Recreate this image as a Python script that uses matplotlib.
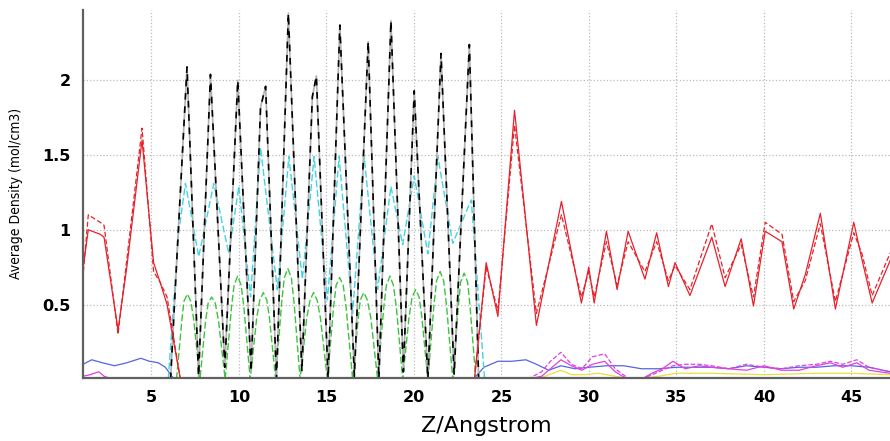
import numpy as np
import matplotlib
matplotlib.use("Agg")
import matplotlib.pyplot as plt

# ---- data ----
# black (dash-dot) oscillating species in the slab
z_black = [6.1, 6.5, 7.04, 7.7, 8.38, 9.2, 9.94, 10.7, 11.24, 11.53, 12.15, 12.83, 13.6,
           14.2, 14.43, 15.1, 15.77, 16.6, 17.39, 18.0, 18.69, 19.4, 20.02, 20.8, 21.55,
           22.3, 23.17, 23.7]
d_black = [0.0, 0.9, 2.09, 0.02, 2.04, 0.08, 2.0, 0.05, 1.82, 1.96, 0.0, 2.45, 0.05,
           1.89, 2.03, 0.0, 2.37, 0.02, 2.26, 0.0, 2.40, 0.05, 1.93, 0.0, 2.18,
           0.03, 2.24, 0.0]

# cyan (dashed)
z_cyan = [5.97, 6.56, 6.95, 7.71, 8.57, 9.43, 10.0, 10.67, 11.24, 12.2, 12.86, 13.63,
          14.3, 15.06, 15.73, 16.5, 17.16, 17.93, 18.69, 19.36, 20.02, 20.8, 21.37,
          22.22, 23.28, 24.04]
d_cyan = [0.0, 0.98, 1.31, 0.82, 1.31, 0.84, 1.29, 0.55, 1.55, 0.6, 1.49, 0.67,
          1.49, 0.53, 1.49, 0.44, 1.49, 0.6, 1.29, 0.9, 1.36, 0.84, 1.49,
          0.91, 1.2, 0.0]

# green (dashed), rounded bumps
z_green = [6.44, 6.75, 6.86, 7.06, 7.26, 7.42, 7.78,
           8.1, 8.25, 8.45, 8.65, 8.84, 9.22,
           9.58, 9.73, 9.93, 10.13, 10.29, 10.65,
           11.02, 11.2, 11.4, 11.6, 11.75, 12.1,
           12.45, 12.6, 12.8, 13.0, 13.15, 13.5,
           13.88, 14.07, 14.27, 14.47, 14.66, 15.06,
           15.41, 15.56, 15.76, 15.96, 16.13, 16.5,
           16.82, 16.94, 17.14, 17.34, 17.54, 17.93,
           18.28, 18.43, 18.63, 18.83, 19.0, 19.36,
           19.73, 19.9, 20.1, 20.3, 20.45, 20.8,
           21.15, 21.3, 21.5, 21.7, 21.86, 22.22,
           22.55, 22.67, 22.87, 23.07, 23.2, 23.54]
d_green = [0.0, 0.40, 0.52, 0.57, 0.52, 0.40, 0.0,
           0.39, 0.51, 0.55, 0.51, 0.39, 0.0,
           0.48, 0.63, 0.69, 0.63, 0.48, 0.0,
           0.41, 0.53, 0.58, 0.53, 0.41, 0.0,
           0.52, 0.68, 0.74, 0.68, 0.52, 0.0,
           0.41, 0.53, 0.58, 0.53, 0.41, 0.0,
           0.48, 0.63, 0.68, 0.63, 0.48, 0.0,
           0.41, 0.53, 0.58, 0.53, 0.41, 0.0,
           0.48, 0.63, 0.69, 0.63, 0.48, 0.0,
           0.42, 0.55, 0.60, 0.55, 0.42, 0.0,
           0.50, 0.66, 0.72, 0.66, 0.50, 0.0,
           0.50, 0.65, 0.71, 0.65, 0.50, 0.0]

# red (solid + dashed), left water region and right water region
z_red_l = [1.12, 1.4, 2.08, 2.3, 3.1, 3.6, 4.47, 5.13, 5.5, 5.9, 6.66]
d_red_l1 = [0.76, 1.0, 0.97, 0.95, 0.33, 0.75, 1.6, 0.78, 0.65, 0.5, 0.0]
d_red_l2 = [0.72, 1.1, 1.05, 1.03, 0.30, 0.8, 1.68, 0.72, 0.65, 0.55, 0.0]
z_red_r = [23.46, 24.13, 24.8, 25.75, 27.0, 28.43, 29.57, 29.99, 30.3, 31.0, 31.61,
           32.24, 33.2, 33.87, 34.54, 34.92, 35.77, 37.02, 37.78, 38.7, 39.4, 40.07,
           41.03, 41.7, 42.36, 43.22, 44.08, 45.13, 45.6, 46.18, 47.23]
d_red_r1 = [0.0, 0.78, 0.42, 1.8, 0.36, 1.19, 0.51, 0.75, 0.51, 0.99, 0.6,
            0.99, 0.67, 0.98, 0.62, 0.78, 0.56, 0.95, 0.62, 0.94, 0.49, 0.99,
            0.92, 0.47, 0.7, 1.11, 0.47, 1.05, 0.8, 0.51, 0.8]
d_red_r2 = [0.0, 0.75, 0.46, 1.7, 0.44, 1.1, 0.55, 0.72, 0.55, 0.92, 0.63,
            0.92, 0.72, 0.92, 0.66, 0.76, 0.6, 1.04, 0.68, 0.9, 0.55, 1.05,
            0.97, 0.52, 0.66, 1.04, 0.52, 0.98, 0.84, 0.56, 0.85]

# blue (solid)
z_blue_l = [1.1, 1.6, 2.2, 2.9, 3.6, 4.4, 4.9, 5.4, 5.8, 6.3]
d_blue_l = [0.1, 0.13, 0.11, 0.09, 0.11, 0.14, 0.12, 0.11, 0.08, 0.0]
z_blue_r = [23.4, 24.0, 24.8, 25.6, 26.4, 27.0, 27.7, 28.4, 29.2, 30.0, 31.0, 32.0,
            33.0, 34.0, 35.0, 36.0, 37.0, 38.0, 39.0, 40.0, 41.0, 42.0, 43.0, 44.0,
            45.0, 46.0, 47.2]
d_blue_r = [0.0, 0.08, 0.12, 0.12, 0.13, 0.1, 0.06, 0.09, 0.07, 0.08, 0.09, 0.09,
            0.07, 0.07, 0.08, 0.08, 0.08, 0.07, 0.09, 0.08, 0.07, 0.08, 0.08, 0.09,
            0.09, 0.08, 0.05]

# magenta (solid + dashed)
z_mag_l = [1.1, 1.5, 2.0, 2.3, 2.8, 3.2]
d_mag_l = [0.02, 0.03, 0.05, 0.02, 0.0, 0.0]
z_mag_r = [26.5, 27.3, 27.8, 28.4, 29.0, 29.6, 30.2, 30.9, 31.5, 32.2, 33.0, 33.6,
           34.2, 34.8, 35.5, 36.3, 37.0, 38.0, 39.0, 40.0, 41.0, 42.0, 43.0, 43.8,
           44.5, 45.3, 46.0, 47.2]
d_mag_r1 = [0.0, 0.02, 0.07, 0.13, 0.09, 0.06, 0.1, 0.12, 0.05, 0.0, 0.0, 0.04,
            0.07, 0.12, 0.07, 0.09, 0.08, 0.07, 0.06, 0.09, 0.06, 0.06, 0.09, 0.11,
            0.08, 0.11, 0.06, 0.04]
d_mag_r2 = [0.0, 0.05, 0.12, 0.18, 0.1, 0.07, 0.15, 0.17, 0.07, 0.01, 0.0, 0.03,
            0.06, 0.09, 0.1, 0.1, 0.09, 0.07, 0.1, 0.08, 0.07, 0.09, 0.1, 0.12,
            0.1, 0.13, 0.08, 0.05]

# yellow
z_yel = [26.8, 27.5, 28.4, 29.0, 29.8, 30.5, 31.5, 32.5, 34.0, 35.0, 37.0, 40.0,
         43.0, 45.0, 47.2]
d_yel = [0.0, 0.02, 0.06, 0.03, 0.03, 0.04, 0.02, 0.0, 0.02, 0.04, 0.04, 0.03,
         0.04, 0.04, 0.03]

xticks = [5, 10, 15, 20, 25, 30, 35, 40, 45]
yticks = [0.5, 1, 1.5, 2]
ytick_labels = ["0.5", "1", "1.5", "2"]

# ---- plot ----
fig = plt.figure(figsize=(8.9, 4.41), dpi=100)
ax = fig.add_axes([0.0935, 0.1435, 0.9065, 0.8335])

red = "#e8202a"
ax.plot(z_yel, d_yel, color="#e8e040", lw=0.9)
ax.plot(z_blue_l, d_blue_l, color="#5565e0", lw=0.9)
ax.plot(z_blue_r, d_blue_r, color="#5565e0", lw=0.9)
ax.plot(z_mag_l, d_mag_l, color="#e040e0", lw=0.9)
ax.plot(z_mag_r, d_mag_r1, color="#e040e0", lw=0.9)
ax.plot(z_mag_r, d_mag_r2, color="#e040e0", lw=0.9, ls="--")
ax.plot(z_green, d_green, color="#3cc43c", lw=1.0, ls="--", dashes=(5, 2))
ax.plot(z_cyan, d_cyan, color="#40d4e4", lw=1.0, ls="--", dashes=(5, 2))
ax.plot(z_black, d_black, color="#b0b0b0", lw=1.2)
ax.plot(z_black, d_black, color="black", lw=1.2, ls="--", dashes=(4, 4))
ax.plot(z_red_l, d_red_l1, color=red, lw=0.9)
ax.plot(z_red_l, d_red_l2, color=red, lw=0.9, ls="--", dashes=(4, 2))
ax.plot(z_red_r, d_red_r1, color=red, lw=0.9)
ax.plot(z_red_r, d_red_r2, color=red, lw=0.9, ls="--", dashes=(4, 2))

ax.set_xlim(1.11, 47.2)
ax.set_ylim(0.01, 2.47)
ax.set_xticks(xticks)
ax.set_yticks(yticks)
ax.set_yticklabels(ytick_labels)
ax.grid(True, color="#bbbbbb", ls=":", lw=0.9)
ax.tick_params(length=0, labelsize=11.5, pad=9)
for lab in ax.get_xticklabels() + ax.get_yticklabels():
    lab.set_fontweight("bold")

for s in ["top", "right"]:
    ax.spines[s].set_visible(False)
for s in ["left", "bottom"]:
    ax.spines[s].set_color("#606060")
    ax.spines[s].set_linewidth(1.6)

ax.set_xlabel("Z/Angstrom", fontsize=16, labelpad=8)
ax.set_ylabel("Average Density (mol/cm3)", fontsize=10, labelpad=14,
              fontstretch="condensed",
              family=["Liberation Sans Narrow", "DejaVu Sans"])

fig.savefig("out.png", dpi=100)
